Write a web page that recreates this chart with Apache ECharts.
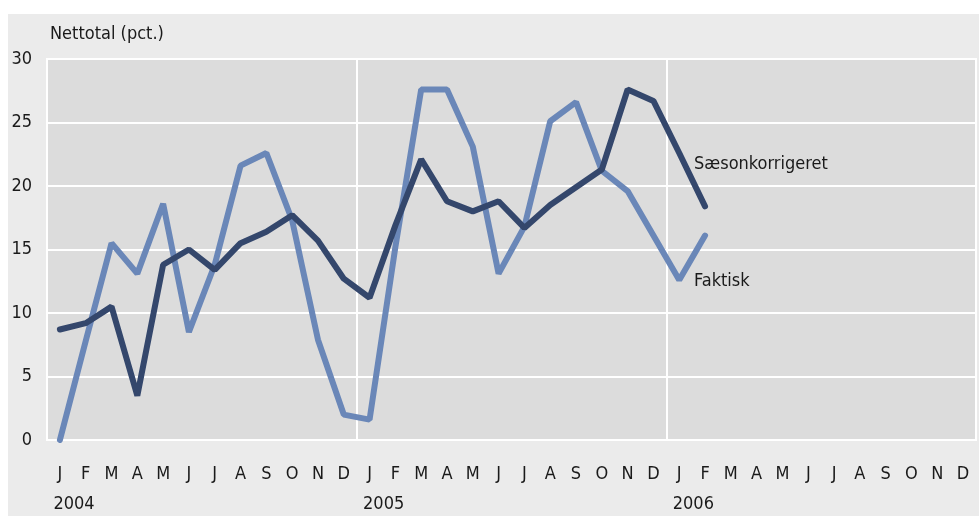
<!DOCTYPE html>
<html>
<head>
<meta charset="utf-8">
<script src="https://cdn.jsdelivr.net/npm/echarts@6/dist/echarts.min.js"></script>
<style>
    html, body { margin: 0; padding: 0; background: #ffffff; }
    #panel { position: absolute; left: 8px; top: 14px; width: 971px; height: 502px; background: #ebebeb; }
    #chart { width: 100%; height: 100%; }
</style>
</head>
<body>
<div id="panel"><div id="chart"></div></div>
<script>
    // maaneder 2004-2006
    var months = ['J','F','M','A','M','J','J','A','S','O','N','D',
                  'J','F','M','A','M','J','J','A','S','O','N','D',
                  'J','F','M','A','M','J','J','A','S','O','N','D'];
    var years = ['2004','','','','','','','','','','','',
                 '2005','','','','','','','','','','','',
                 '2006','','','','','','','','','','',''];
    var yTicks = [0, 5, 10, 15, 20, 25, 30];

    var faktisk = [0, 7.8, 15.5, 13.1, 18.6, 8.5, 13.8, 21.6, 22.6, 17.3, 7.9, 2.0,
                   1.6, 15.2, 27.6, 27.6, 23.1, 13.1, 16.8, 25.1, 26.6, 21.2, 19.6, 16.1,
                   12.6, 16.1];
    var saeson = [8.7, 9.2, 10.5, 3.5, 13.8, 15.0, 13.4, 15.5, 16.4, 17.7, 15.7, 12.7,
                  11.2, 16.9, 22.1, 18.8, 18.0, 18.8, 16.7, 18.5, 19.9, 21.3, 27.6, 26.7,
                  22.6, 18.4];

    var fontName = "'Liberation Sans Narrow', 'DejaVu Sans Condensed', sans-serif";
    var textColor = '#1a1a1a';
    var fs = 18;

    var chart = echarts.init(document.getElementById('chart'));
    var option = {
        animation: false,
        textStyle: { fontFamily: fontName },
        title: {
            text: 'Nettotal (pct.)',
            left: 42,
            top: 11,
            padding: 0,
            textStyle: { fontFamily: fontName, fontSize: fs, fontWeight: 'normal', color: textColor }
        },
        grid: {
            left: 39,
            right: 3,
            top: 45,
            bottom: 76,
            show: true,
            backgroundColor: '#dcdcdc',
            borderColor: '#ffffff',
            borderWidth: 2
        },
        xAxis: [{
            type: 'category',
            data: months,
            boundaryGap: true,
            axisLine: { show: false },
            axisTick: { show: false },
            axisLabel: { interval: 0, margin: 25, fontSize: fs, color: textColor, fontFamily: fontName },
            splitLine: {
                show: true,
                interval: function (index) { return index % 12 === 0; },
                lineStyle: { color: '#ffffff', width: 2 }
            }
        }, {
            type: 'category',
            data: years,
            position: 'bottom',
            boundaryGap: true,
            axisLine: { show: false },
            axisTick: { show: false },
            splitLine: { show: false },
            axisLabel: {
                interval: 0,
                margin: 55,
                fontSize: fs,
                color: textColor,
                fontFamily: fontName,
                formatter: function (v) { return v ? '{y|' + v + '}' : ''; },
                rich: { y: { width: 13, align: 'left', fontSize: fs, fontFamily: fontName, color: textColor } }
            }
        }],
        yAxis: {
            type: 'value',
            min: yTicks[0],
            max: yTicks[yTicks.length - 1],
            interval: 5,
            axisLine: { show: false },
            axisTick: { show: false },
            axisLabel: { margin: 15, fontSize: fs, color: textColor, fontFamily: fontName },
            splitLine: { lineStyle: { color: '#ffffff', width: 2 } }
        },
        series: [{
            name: 'Faktisk',
            type: 'line',
            data: faktisk,
            symbol: 'none',
            lineStyle: { color: '#6a87b8', width: 6, cap: 'round' },
            endLabel: {
                show: true,
                formatter: '{a}',
                offset: [-19, 46],
                fontSize: fs,
                fontFamily: fontName,
                color: textColor
            }
        }, {
            name: 'Sæsonkorrigeret',
            type: 'line',
            data: saeson,
            symbol: 'none',
            lineStyle: { color: '#34476c', width: 6, cap: 'round' },
            endLabel: {
                show: true,
                formatter: '{a}',
                offset: [-19, -42],
                fontSize: fs,
                fontFamily: fontName,
                color: textColor
            }
        }]
    };
    chart.setOption(option);
</script>
</body>
</html>
